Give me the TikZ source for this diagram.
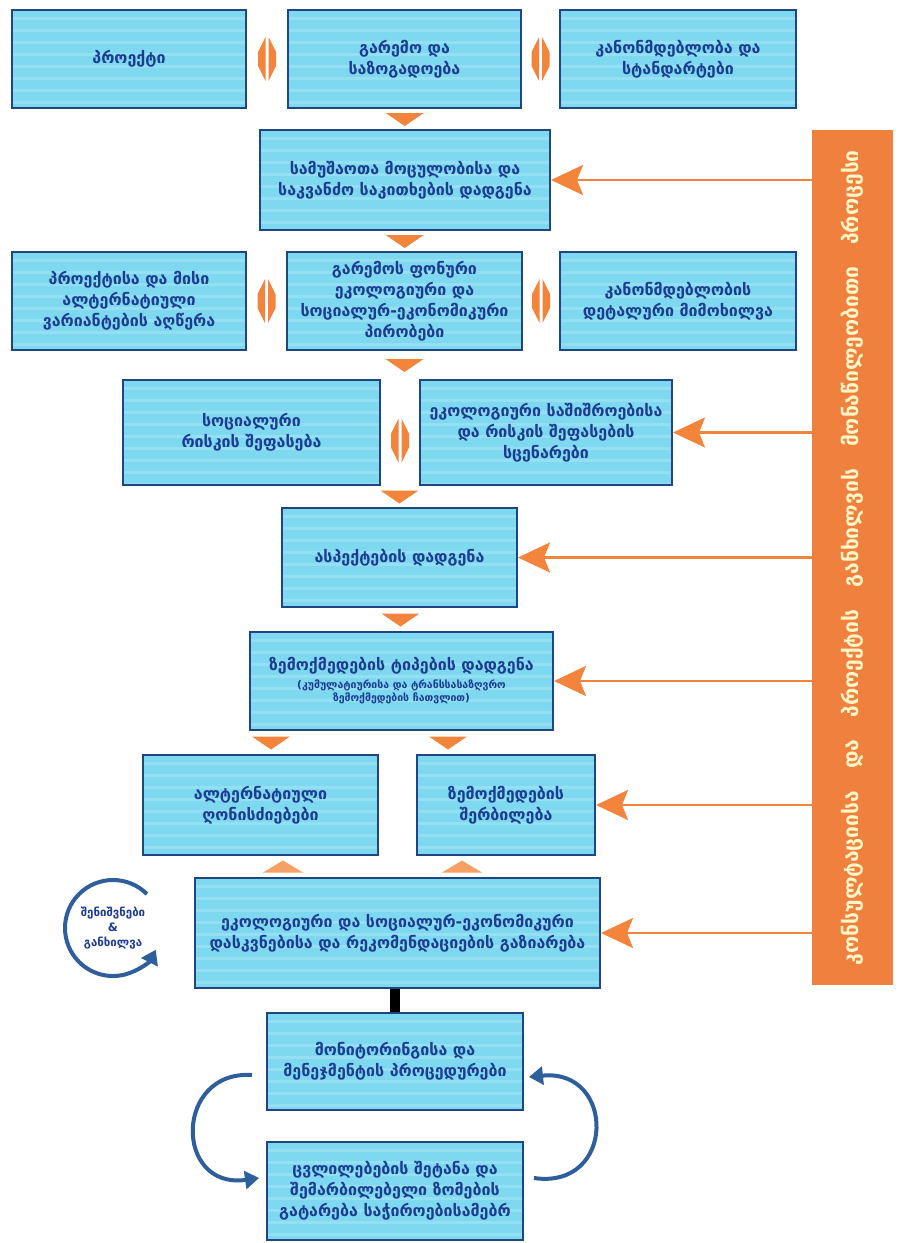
\documentclass[tikz,border=0pt]{standalone}
\usepackage{fontspec}
\setmainfont{DejaVu Sans}
\usetikzlibrary{arrows.meta,calc}
\definecolor{boxfill}{RGB}{125,216,240}
\definecolor{boxdraw}{RGB}{32,70,130}
\definecolor{boxtext}{RGB}{28,60,145}
\definecolor{orng}{RGB}{242,132,60}
\definecolor{orngl}{RGB}{246,160,100}
\definecolor{barcol}{RGB}{240,128,62}
\definecolor{bartext}{RGB}{255,246,200}
\definecolor{curveblue}{RGB}{46,94,156}
\tikzset{
  box/.style={draw=boxdraw, line width=2pt, fill=boxfill, text=boxtext, align=center,
    font=\fontsize{16}{21}\selectfont\bfseries, inner sep=2pt,
    path picture={\foreach \k in {1,...,9}{\draw[white,opacity=0.18,line width=3pt]
      ([yshift=-\k*12pt+4pt]path picture bounding box.north west) -- ([yshift=-\k*12pt+4pt]path picture bounding box.north east);}}},
  barline/.style={draw=orng, line width=2.5pt, -{Stealth[length=32pt,width=30pt,inset=6pt]}},
  bcurve/.style={draw=curveblue, line width=4pt, -{Triangle[length=14pt,width=18pt]}},
  dtri/.pic={\fill[orng] (-19,-6) -- (19,-6) -- (0,7) -- cycle;},
  utri/.pic={\fill[orngl] (-20,6) -- (20,6) -- (0,-6) -- cycle;},
  dbl/.pic={\fill[orng] (-1.5,-22) -- (-9,-7) -- (-9,7) -- (-1.5,22) -- cycle;
            \fill[orng] (1.5,-22) -- (9,-7) -- (9,7) -- (1.5,22) -- cycle;}
}
\begin{document}
\begin{tikzpicture}[x=1pt,y=-1pt]
\useasboundingbox[fill=white] (0,0) rectangle (903,1243);
% top row
\node[box, minimum width=234pt, minimum height=98pt] (a) at (129,59) {პროექტი};
\node[box, minimum width=233pt, minimum height=98pt] (b) at (404.5,59) {გარემო და\\საზოგადოება};
\node[box, minimum width=236pt, minimum height=98pt] (c) at (678,59) {კანონმდებლობა და\\სტანდარტები};
% scope
\node[box, minimum width=290pt, minimum height=100pt] (s2) at (405,180) {სამუშაოთა მოცულობისა და\\საკვანძო საკითხების დადგენა};
% row 3
\node[box, minimum width=234pt, minimum height=98pt] (r3a) at (129,301) {პროექტისა და მისი\\ალტერნატიული\\ვარიანტების აღწერა};
\node[box, minimum width=235pt, minimum height=98pt] (r3b) at (404.5,301) {გარემოს ფონური\\ეკოლოგიური და\\სოციალურ-ეკონომიკური\\პირობები};
\node[box, minimum width=236pt, minimum height=98pt] (r3c) at (678,301) {კანონმდებლობის\\დეტალური მიმოხილვა};
% row 4
\node[box, minimum width=257pt, minimum height=105pt] (r4a) at (251.5,432.5) {სოციალური\\რისკის შეფასება};
\node[box, minimum width=252pt, minimum height=105pt] (r4b) at (546,432.5) {ეკოლოგიური საშიშროებისა\\და რისკის შეფასების\\სცენარები};
% aspects
\node[box, minimum width=235pt, minimum height=99pt] (s5) at (399.5,557.5) {ასპექტების დადგენა};
% impacts
\node[box, minimum width=303pt, minimum height=98pt] (s6) at (401.5,681) {ზემოქმედების ტიპების დადგენა\\[-3pt]{\fontsize{10.5}{11.5}\selectfont (კუმულატიურისა და ტრანსსასაზღვრო}\\[-8pt]{\fontsize{10.5}{11.5}\selectfont ზემოქმედების ჩათვლით)}};
% row 7
\node[box, minimum width=235pt, minimum height=100pt] (r7a) at (260.5,805) {ალტერნატიული\\ღონისძიებები};
\node[box, minimum width=178pt, minimum height=100pt] (r7b) at (506,805) {ზემოქმედების\\შერბილება};
% conclusions
\node[box, minimum width=405pt, minimum height=110pt] (s8) at (397.5,933) {ეკოლოგიური და სოციალურ-ეკონომიკური\\დასკვნებისა და რეკომენდაციების გაზიარება};
% bottom
\node[box, minimum width=256pt, minimum height=97pt] (s9) at (395,1061.5) {მონიტორინგისა და\\მენეჯმენტის პროცედურები};
\node[box, minimum width=256pt, minimum height=98pt] (s10) at (395,1191) {ცვლილებების შეტანა და\\შემარბილებელი ზომების\\გატარება საჭიროებისამებრ};
% loop circle
\node[circle, minimum size=88pt, inner sep=0pt, align=center, text=boxtext, font=\fontsize{11.5}{15}\selectfont\bfseries] (loop) at (113,928) {შენიშვნები\\\&\\განხილვა};
\draw[bcurve] ([shift={(45:48pt)}]loop.center) arc[start angle=45, end angle=333, radius=48pt];
% right bar
\node[fill=barcol, minimum width=81pt, minimum height=855pt, inner sep=0pt] (bar) at (852.5,557.5) {};
\node[rotate=90, text=bartext, font=\fontsize{21}{24}\selectfont\bfseries] (bartxt) at (bar.center) {\makebox[815pt][s]{კონსულტაციისა და პროექტის განხილვის მონაწილეობითი პროცესი}};
% bar connectors
\foreach \n in {s2,r4b,s5,s6,r7b,s8}{\draw[barline] (bar.west |- \n.east) -- (\n.east);}
% orange markers
\pic at ($(a.east)!0.5!(b.west)$) {dbl};
\pic at ($(b.east)!0.5!(c.west)$) {dbl};
\pic at ($(r3a.east)!0.5!(r3b.west)$) {dbl};
\pic at ($(r3b.east)!0.5!(r3c.west)$) {dbl};
\pic at ($(r4a.east)!0.5!(r4b.west)+(0,8)$) {dbl};
\pic at ($(b.south)!0.5!(s2.north)$) {dtri};
\pic at ($(s2.south)!0.5!(r3b.north)$) {dtri};
\pic at ($(r3b.south)!0.5!(r4a.north -| r3b.south)$) {dtri};
\pic at ($(r4a.south -| s5.north)!0.5!(s5.north)$) {dtri};
\pic at ($(s5.south)!0.5!(s6.north)$) {dtri};
\pic at ($(s6.south)!0.5!(r7a.north)+(-60,0)$) {dtri};
\pic at ($(s6.south)!0.5!(r7a.north)+(117,0)$) {dtri};
\pic at ($(r7a.south)!0.5!(s8.north)+(-46,0)$) {utri};
\pic at ($(r7a.south)!0.5!(s8.north)+(133,0)$) {utri};
% black link
\draw[line width=10pt, black] (s9.north |- s8.south) -- (s9.north);
% bottom loop arrows
\draw[bcurve] ([xshift=-14pt,yshift=-13.5pt]s9.west) .. controls (174,1070) and (174,1190) .. ([xshift=-7pt,yshift=13pt]s10.west);
\draw[bcurve] ([xshift=10pt,yshift=13pt]s10.east) .. controls (616,1190) and (616,1068) .. ([xshift=5pt,yshift=-15.5pt]s9.east);
\end{tikzpicture}
\end{document}
